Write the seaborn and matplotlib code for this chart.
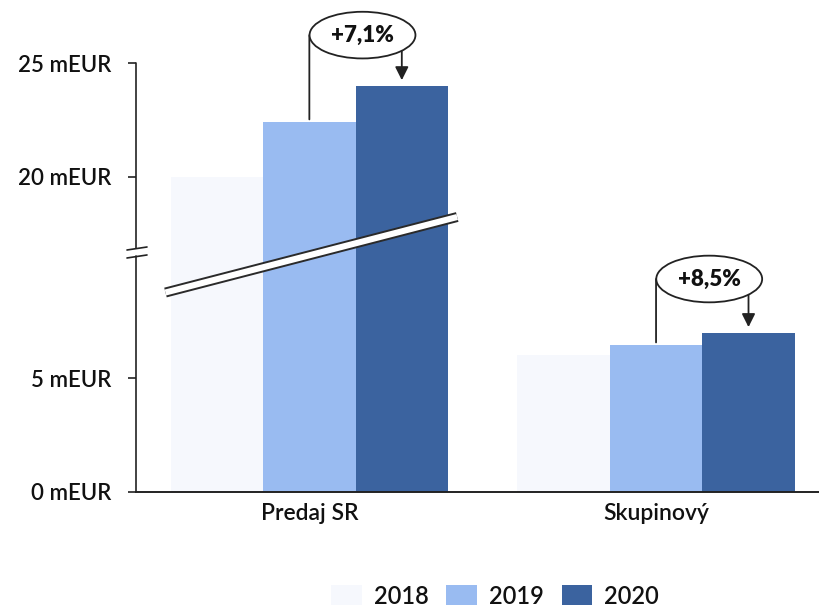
import numpy as np
import pandas as pd
import matplotlib
matplotlib.use("Agg")
import matplotlib.pyplot as plt
import matplotlib.transforms as mtransforms
import seaborn as sns

# hodnoty v mil. EUR (odčítané z grafu)
kategorie = ["Predaj SR", "Skupinový"]
roky = ["2018", "2019", "2020"]
hodnoty_2018 = [20.0, 6.0]
hodnoty_2019 = [22.4, 6.45]
hodnoty_2020 = [24.0, 7.0]
zmeny = ["+7,1%", "+8,5%"]
farby = ["#F6F8FD", "#99BBF1", "#3B639F"]
y_ticks = [0, 5, 20, 25]
y_labels = ["0 mEUR", "5 mEUR", "20 mEUR", "25 mEUR"]

df = pd.DataFrame({
    "kategoria": kategorie * 3,
    "rok": [r for r in roky for _ in kategorie],
    "hodnota": hodnoty_2018 + hodnoty_2019 + hodnoty_2020,
})

# prerušená os: úsek 10.6 - 16.8 sa stlačí
BRK_LO, BRK_HI = 10.6, 16.8
xp = [0, BRK_LO, BRK_HI, 100]
fp = [0, BRK_LO, BRK_LO + 0.05, 100 - (BRK_HI - BRK_LO) + 0.05]


def fwd(y):
    return np.interp(y, xp, fp, left=-1e9, right=1e9)


def inv(y):
    return np.interp(y, fp, xp, left=-1e9, right=1e9)


sns.set_style("white")
plt.rcParams["font.family"] = ["Lato", "DejaVu Sans"]

fig = plt.figure(figsize=(8.19, 6.10), dpi=100)
ax = fig.add_axes([136 / 819, 118 / 610, 683 / 819, 429 / 610])

sns.barplot(data=df, x="kategoria", y="hodnota", hue="rok", palette=farby,
            width=0.8, saturation=1, ax=ax, linewidth=0, zorder=2)

ax.set_yscale("function", functions=(fwd, inv))
ax.set_ylim(0, 25)
ax.set_xlim(-0.5, 1.47)
ax.set_yticks(y_ticks)
ax.set_yticklabels(y_labels)
ax.set_xlabel("")
ax.set_ylabel("")
ax.minorticks_off()

ax.tick_params(axis="y", direction="out", length=6, width=1.2, color="#222222",
               labelsize=16, pad=12, left=True)
ax.tick_params(axis="x", length=0, labelsize=16.5, pad=8)
for lab in ax.get_xticklabels() + ax.get_yticklabels():
    lab.set_color("#111111")
    lab.set_fontweight("semibold")

sns.despine(ax=ax, top=True, right=True, left=True)
ax.spines["bottom"].set_linewidth(1.4)
ax.spines["bottom"].set_color("#222222")

# ľavá os s prerušením
ax.plot([0, 0], [0, 0.549], transform=ax.transAxes, color="#222222", lw=1.2, clip_on=False)
ax.plot([0, 0], [0.5676, 1], transform=ax.transAxes, color="#222222", lw=1.2, clip_on=False)
for yy in (0.549, 0.5676):
    ax.plot([-0.0132, 0.0161], [yy - 0.0035, yy + 0.0035], transform=ax.transAxes,
            color="#222222", lw=1.2, clip_on=False)

# diagonálny pás prerušenia cez stĺpce
blend = mtransforms.blended_transform_factory(ax.transData, ax.transAxes)
pas_x = [-0.415, 0.4265]
pas_y = [0.465, 0.641]
ax.plot(pas_x, pas_y, transform=blend, color="#2a2a2a", lw=7.2,
        solid_capstyle="butt", zorder=5)
ax.plot(pas_x, pas_y, transform=blend, color="white", lw=4.4,
        solid_capstyle="butt", zorder=6)

# medziročné zmeny
offs = 0.8 / 3
vrch = [1.065, 0.4965]
for i in range(len(kategorie)):
    x_l = i
    x_r = i + offs
    ax.annotate("", xy=(x_l, vrch[i]), xycoords=blend,
                xytext=(x_l, hodnoty_2019[i]), textcoords="data",
                arrowprops=dict(arrowstyle="-", color="#222222", lw=1.3,
                                shrinkA=2, shrinkB=0), annotation_clip=False)
    ax.annotate("", xy=(x_r, hodnoty_2020[i]), xycoords="data",
                xytext=(x_r, vrch[i]), textcoords=blend,
                arrowprops=dict(arrowstyle="-|>,head_length=0.5,head_width=0.25",
                                mutation_scale=16, color="#222222", lw=1.3,
                                shrinkA=0, shrinkB=4), annotation_clip=False)
    ax.text((x_l + x_r) / 2 + 0.02, vrch[i], zmeny[i], transform=blend,
            ha="center", va="center", fontsize=16, fontweight="heavy", color="#111111",
            bbox=dict(boxstyle="ellipse,pad=0.27", fc="white", ec="#222222", lw=1.3),
            zorder=10, clip_on=False)

leg = ax.legend(loc="center", bbox_to_anchor=(495 / 819, 14 / 610),
                bbox_transform=fig.transFigure, ncol=3, frameon=False,
                fontsize=17, handlelength=1.3, handleheight=0.93,
                handletextpad=0.5, columnspacing=0.76, borderaxespad=0)
for t in leg.get_texts():
    t.set_color("#111111")
    t.set_fontweight("semibold")

fig.savefig("out.png", dpi=100)
